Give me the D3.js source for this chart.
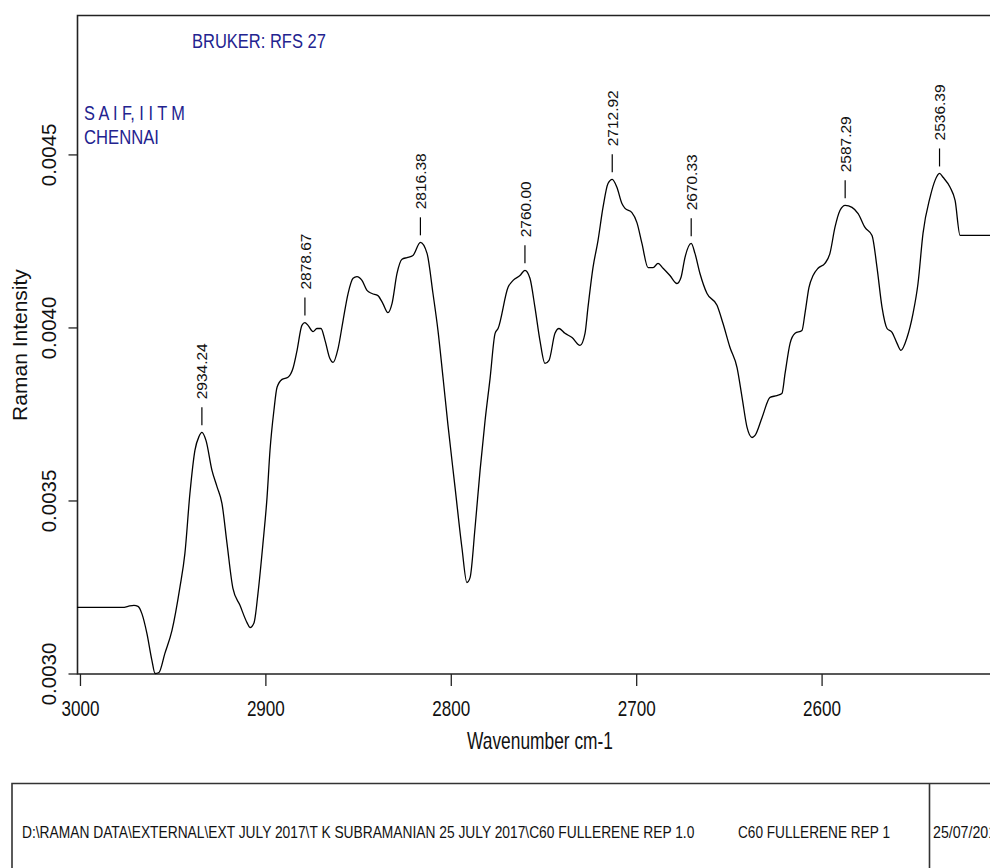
<!DOCTYPE html>
<html>
<head>
<meta charset="utf-8">
<script src="https://cdn.jsdelivr.net/npm/d3@7"></script>
<style>
  html, body { margin: 0; padding: 0; background: #fff; }
  svg { display: block; }
  text { font-family: "Liberation Sans Narrow", "Arial Narrow", "Liberation Sans", Arial, sans-serif; }
  .rot { font-family: "Liberation Sans", Arial, sans-serif; }
</style>
</head>
<body>
<svg id="chart" width="990" height="868"></svg>
<script>
// ---- data ----
const wavenumber = [3001.6, 2976.8, 2974.1, 2970.9, 2968.7, 2966.6, 2963.9, 2961.2, 2959.5, 2957.4,
  2954.2, 2950.4, 2946.1, 2943.4, 2940.7, 2938.0, 2935.8, 2934.24, 2932.0, 2928.8,
  2926.1, 2923.4, 2920.7, 2917.5, 2913.7, 2909.9, 2908.3, 2906.1, 2904.0, 2901.3,
  2899.1, 2897.5, 2895.4, 2893.7, 2891.0, 2887.8, 2885.1, 2882.9, 2880.3, 2878.67,
  2877.0, 2874.3, 2872.2, 2870.0, 2867.8, 2865.2, 2863.5, 2860.8, 2858.1, 2855.4,
  2852.7, 2850.6, 2847.9, 2845.2, 2842.5, 2839.3, 2836.6, 2833.9, 2831.7, 2829.0,
  2826.3, 2823.6, 2820.4, 2816.38, 2812.8, 2809.6, 2806.9, 2804.2, 2801.5, 2797.7,
  2794.0, 2791.3, 2789.6, 2786.9, 2784.2, 2781.5, 2778.8, 2776.1, 2774.5, 2769.1,
  2766.4, 2762.7, 2760.00, 2757.3, 2754.6, 2751.9, 2749.2, 2747.0, 2743.8, 2741.6,
  2738.4, 2734.6, 2730.3, 2727.6, 2726.0, 2723.3, 2720.6, 2717.9, 2715.2, 2712.92,
  2710.4, 2707.7, 2706.0, 2702.3, 2699.6, 2696.9, 2693.6, 2690.9, 2688.2, 2685.5,
  2681.8, 2678.0, 2675.8, 2673.7, 2670.33, 2668.3, 2665.6, 2661.8, 2656.4, 2653.2,
  2649.4, 2645.6, 2642.9, 2640.2, 2637.5, 2635.9, 2632.1, 2627.8, 2624.1, 2621.4,
  2619.7, 2617.0, 2614.3, 2610.6, 2608.9, 2606.8, 2604.6, 2601.9, 2598.2, 2595.5,
  2592.8, 2590.1, 2587.29, 2583.6, 2580.3, 2576.6, 2572.8, 2570.1, 2567.4, 2564.7,
  2562.0, 2559.3, 2557.2, 2553.9, 2550.7, 2548.0, 2545.3, 2541.5, 2538.8, 2536.39,
  2534.5, 2530.7, 2528.0, 2525.3, 2524.3, 2500.0];

const intensity = [0.003191, 0.003191, 0.003194, 0.003197, 0.003194, 0.003173, 0.003116, 0.003038, 0.003000, 0.003003,
  0.003058, 0.003124, 0.003249, 0.003347, 0.003520, 0.003645, 0.003685, 0.003697, 0.003673, 0.003587,
  0.003540, 0.003491, 0.003376, 0.003246, 0.003197, 0.003147, 0.003133, 0.003147, 0.003231, 0.003376,
  0.003509, 0.003645, 0.003760, 0.003827, 0.003850, 0.003856, 0.003882, 0.003934, 0.004006, 0.004014,
  0.004006, 0.003988, 0.003997, 0.003997, 0.003962, 0.003910, 0.003899, 0.003939, 0.004020, 0.004098,
  0.004142, 0.004147, 0.004136, 0.004107, 0.004098, 0.004092, 0.004069, 0.004043, 0.004069, 0.004156,
  0.004197, 0.004202, 0.004208, 0.004246, 0.004214, 0.004098, 0.003991, 0.003856, 0.003717, 0.003538,
  0.003364, 0.003263, 0.003277, 0.003422, 0.003587, 0.003731, 0.003853, 0.003983, 0.003997, 0.004116,
  0.004136, 0.004150, 0.004165, 0.004142, 0.004058, 0.003962, 0.003896, 0.003905, 0.003983, 0.003997,
  0.003983, 0.003971, 0.003948, 0.003983, 0.004058, 0.004173, 0.004251, 0.004347, 0.004416, 0.004428,
  0.004405, 0.004358, 0.004344, 0.004332, 0.004303, 0.004243, 0.004173, 0.004173, 0.004185, 0.004171,
  0.004150, 0.004127, 0.004145, 0.004202, 0.004243, 0.004214, 0.004156, 0.004098, 0.004064, 0.004012,
  0.003942, 0.003884, 0.003798, 0.003711, 0.003682, 0.003688, 0.003740, 0.003798, 0.003803, 0.003809,
  0.003867, 0.003954, 0.003983, 0.003991, 0.004043, 0.004116, 0.004150, 0.004171, 0.004185, 0.004214,
  0.004289, 0.004338, 0.004353, 0.004347, 0.004329, 0.004289, 0.004266, 0.004173, 0.004058, 0.003997,
  0.003986, 0.003954, 0.003934, 0.003971, 0.004040, 0.004127, 0.004272, 0.004376, 0.004425, 0.004445,
  0.004434, 0.004405, 0.004367, 0.004266, 0.004266, 0.004266];

const peakLabels = [2934.24, 2878.67, 2816.38, 2760.00, 2712.92, 2670.33, 2587.29, 2536.39];
const xTicks = [3000, 2900, 2800, 2700, 2600];
const yTicks = [0.0030, 0.0035, 0.0040, 0.0045];

const xAxisTitle = "Wavenumber cm-1";
const yAxisTitle = "Raman Intensity";
const headerTexts = ["BRUKER: RFS 27", "S A I F, I I T M", "CHENNAI"];
const footerTexts = ["D:\\RAMAN DATA\\EXTERNAL\\EXT JULY 2017\\T K SUBRAMANIAN 25 JULY 2017\\C60 FULLERENE REP 1.0",
                     "C60 FULLERENE REP 1", "25/07/2017"];

// ---- layout ----
const svg = d3.select("#chart");
svg.append("rect").attr("width", 990).attr("height", 868).attr("fill", "#fff");

const x = d3.scaleLinear().domain([3001.6, 2500]).range([77, 1007]);
const y = d3.scaleLinear().domain([0.0030, 0.0049]).range([673.5, 16]);

const frameColor = "#222";
const plotLeft = 77.5, plotTop = 15.5, plotBottom = 674;

// squeeze a horizontal text to a given width (the reference uses a narrow face)
function fit(sel, px, py, w) {
  sel.each(function(d, i) {
    const node = this;
    const n = node.getComputedTextLength();
    const W = typeof w === "function" ? w(d, i) : w;
    const X = typeof px === "function" ? px(d, i) : px;
    const Y = typeof py === "function" ? py(d, i) : py;
    const sx = n > 0 ? W / n : 1;
    d3.select(node).attr("x", 0).attr("y", 0)
      .attr("transform", `translate(${X},${Y}) scale(${sx},1)`);
  });
}

// frame (top + left + bottom; right edge lies beyond the picture)
svg.append("path")
  .attr("d", `M1100,${plotTop}H${plotLeft}V${plotBottom}H1100`)
  .attr("fill", "none").attr("stroke", frameColor).attr("stroke-width", 1.6);

// x axis
const gx = svg.append("g").attr("transform", `translate(0,${plotBottom})`)
  .call(d3.axisBottom(x).tickValues(xTicks).tickSize(12).tickSizeOuter(0).tickFormat(d3.format("d")));
gx.select(".domain").remove();
gx.selectAll(".tick line").attr("stroke", frameColor).attr("stroke-width", 1.3);
gx.selectAll(".tick text").attr("dy", 0)
  .attr("font-size", 22).attr("fill", "#111")
  .call(fit, 0, 42, 38);

// y axis
const gy = svg.append("g").attr("transform", `translate(${plotLeft},0)`)
  .call(d3.axisLeft(y).tickValues(yTicks).tickSize(9).tickSizeOuter(0).tickFormat(d3.format(".4f")));
gy.select(".domain").remove();
gy.selectAll(".tick line").attr("stroke", frameColor).attr("stroke-width", 1.3);
gy.selectAll(".tick text")
  .attr("class", "rot")
  .attr("transform", "rotate(-90)")
  .attr("x", 0).attr("y", -22).attr("dy", 0)
  .attr("text-anchor", "middle")
  .attr("font-size", 20.5).attr("fill", "#111");

// axis titles
svg.append("text").attr("text-anchor", "middle")
  .attr("font-size", 23).attr("fill", "#111")
  .text(xAxisTitle)
  .call(fit, 540, 749, 146);
svg.append("text").attr("class", "rot")
  .attr("transform", "translate(27,345) rotate(-90)")
  .attr("text-anchor", "middle").attr("font-size", 21).attr("fill", "#111")
  .text(yAxisTitle);

// header texts
const navy = "#23238f";
const hdr = [
  {t: headerTexts[0], x: 192, y: 48, w: 134},
  {t: headerTexts[1], x: 84, y: 119.5, w: 101},
  {t: headerTexts[2], x: 84, y: 143.5, w: 75}
];
svg.selectAll(".hdr").data(hdr).join("text").attr("class", "hdr")
  .attr("font-size", 21).attr("fill", navy)
  .text(d => d.t)
  .call(fit, d => d.x, d => d.y, d => d.w);

// spectrum
const data = d3.zip(wavenumber, intensity);
const line = d3.line().x(d => x(d[0])).y(d => y(d[1])).curve(d3.curveMonotoneX);
svg.append("path").datum(data)
  .attr("d", line).attr("fill", "none")
  .attr("stroke", "#000").attr("stroke-width", 1.3).attr("stroke-linejoin", "round");

// peak markers
const peaks = peakLabels.map(p => {
  const i = d3.minIndex(wavenumber, w => Math.abs(w - p));
  return {w: p, v: intensity[i]};
});
const pg = svg.selectAll(".peak").data(peaks).join("g").attr("class", "peak")
  .attr("transform", d => `translate(${x(d.w)},${y(d.v)})`);
pg.append("line").attr("x1", 0).attr("x2", 0).attr("y1", -25).attr("y2", -7)
  .attr("stroke", "#000").attr("stroke-width", 1.2);
pg.append("text").attr("class", "rot")
  .attr("transform", "translate(0,-33) rotate(-90)")
  .attr("dy", "0.36em")
  .attr("font-size", 15.5).attr("fill", "#111")
  .text(d => d.w.toFixed(2));

// footer box
svg.append("path")
  .attr("d", "M12,900V783.5H1100M929.5,783.5V900")
  .attr("fill", "none").attr("stroke", "#333").attr("stroke-width", 1.6);
const ftr = [
  {t: footerTexts[0], x: 22, w: 673},
  {t: footerTexts[1], x: 738, w: 152},
  {t: footerTexts[2], x: 933, w: 71}
];
svg.selectAll(".ftr").data(ftr).join("text").attr("class", "ftr")
  .attr("font-size", 16).attr("fill", "#111")
  .text(d => d.t)
  .call(fit, d => d.x, 837.5, d => d.w);
</script>
</body>
</html>
